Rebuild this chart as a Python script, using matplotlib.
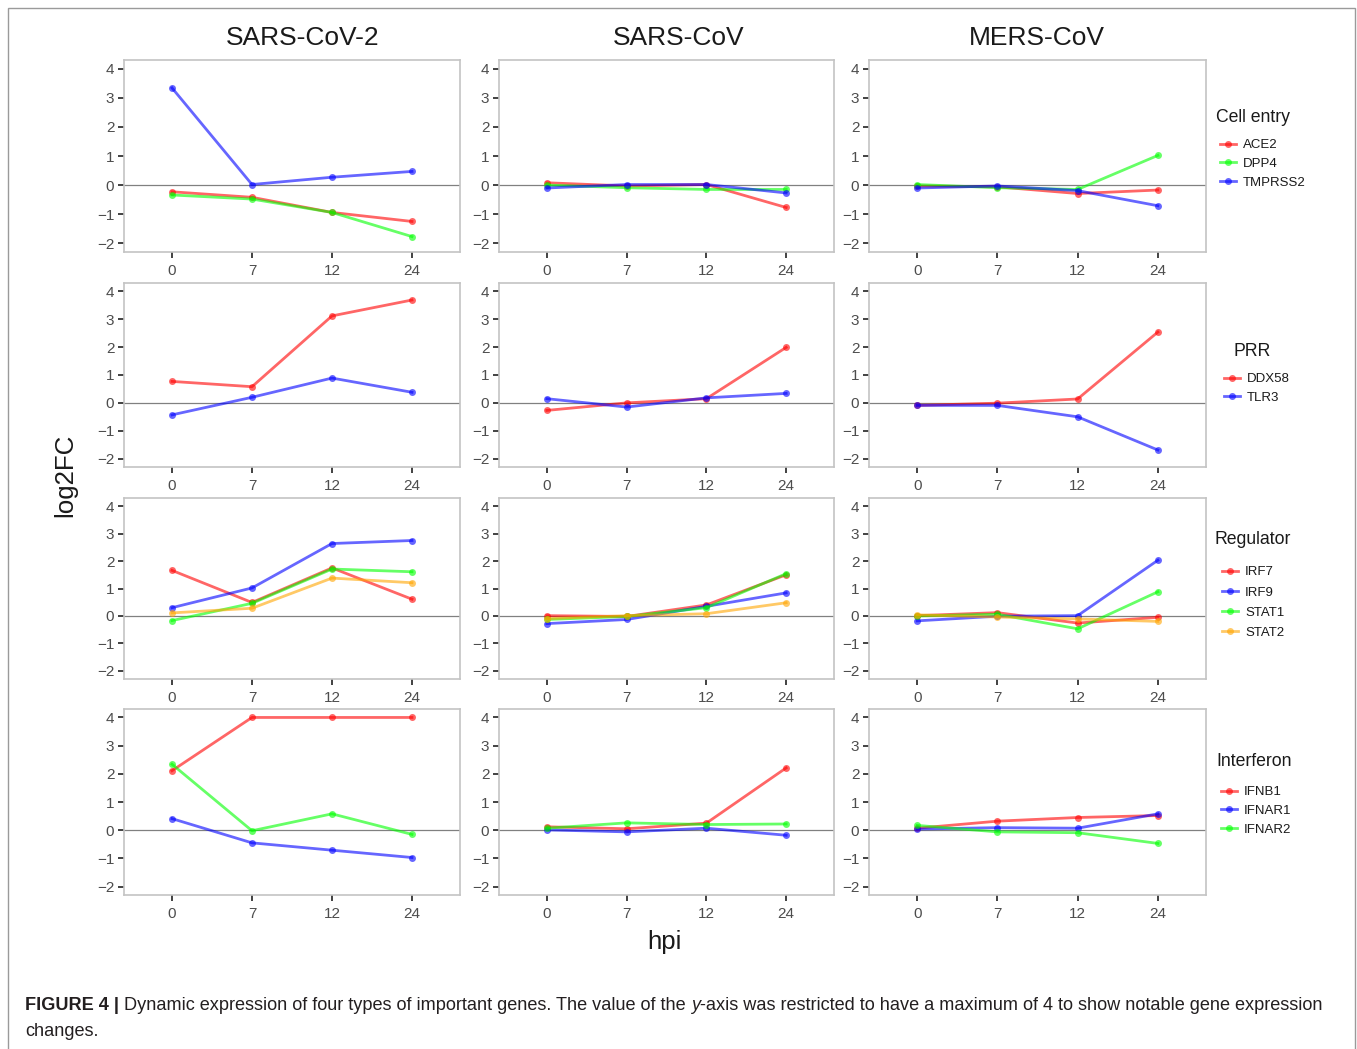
import matplotlib
matplotlib.use("Agg")
import matplotlib.pyplot as plt
from matplotlib.lines import Line2D
from matplotlib.patches import Rectangle

plt.rcParams['font.family'] = ['Liberation Sans', 'DejaVu Sans']

# time points (categorical x axis)
hpi = ["0", "7", "12", "24"]
viruses = ["SARS-CoV-2", "SARS-CoV", "MERS-CoV"]

# log2FC values, one list per virus: [SARS-CoV-2, SARS-CoV, MERS-CoV]
cell_entry = {
    "ACE2":    [[-0.23, -0.42, -0.94, -1.25], [0.08, -0.03, 0.02, -0.77], [-0.03, -0.06, -0.29, -0.17]],
    "DPP4":    [[-0.34, -0.48, -0.94, -1.77], [0.00, -0.09, -0.15, -0.15], [0.02, -0.09, -0.15, 1.02]],
    "TMPRSS2": [[3.34, 0.02, 0.27, 0.47], [-0.10, 0.02, 0.02, -0.27], [-0.10, -0.03, -0.19, -0.71]],
}
prr = {
    "DDX58": [[0.77, 0.58, 3.12, 3.69], [-0.27, 0.00, 0.15, 1.99], [-0.09, -0.01, 0.14, 2.54]],
    "TLR3":  [[-0.43, 0.20, 0.89, 0.38], [0.15, -0.15, 0.18, 0.34], [-0.09, -0.09, -0.50, -1.69]],
}
regulator = {
    "IRF7":  [[1.66, 0.49, 1.75, 0.61], [0.01, -0.02, 0.40, 1.50], [0.01, 0.12, -0.26, -0.05]],
    "IRF9":  [[0.30, 1.02, 2.64, 2.75], [-0.28, -0.13, 0.35, 0.84], [-0.18, -0.01, 0.01, 2.03]],
    "STAT1": [[-0.17, 0.46, 1.71, 1.61], [-0.13, -0.02, 0.30, 1.54], [0.00, 0.06, -0.47, 0.88]],
    "STAT2": [[0.11, 0.28, 1.38, 1.21], [-0.10, 0.01, 0.08, 0.48], [0.04, -0.04, -0.11, -0.20]],
}
interferon = {
    "IFNB1":  [[2.11, 4.00, 4.00, 4.00], [0.12, 0.05, 0.25, 2.21], [0.07, 0.32, 0.45, 0.52]],
    "IFNAR1": [[0.41, -0.45, -0.71, -0.97], [0.01, -0.06, 0.07, -0.18], [0.04, 0.09, 0.07, 0.58]],
    "IFNAR2": [[2.34, -0.02, 0.58, -0.15], [0.07, 0.26, 0.20, 0.22], [0.17, -0.06, -0.09, -0.47]],
}

groups = [("Cell entry", cell_entry), ("PRR", prr), ("Regulator", regulator), ("Interferon", interferon)]

gene_colors = {
    "ACE2": "#FF0000", "DPP4": "#00FF00", "TMPRSS2": "#0000FF",
    "DDX58": "#FF0000", "TLR3": "#0000FF",
    "IRF7": "#FF0000", "IRF9": "#0000FF", "STAT1": "#00FF00", "STAT2": "#FFA500",
    "IFNB1": "#FF0000", "IFNAR1": "#0000FF", "IFNAR2": "#00FF00",
}

W, H = 1357, 1049
fig = plt.figure(figsize=(W / 100, H / 100), dpi=100)


def fx(x):
    return x / W


def fy(y):
    return 1 - y / H


col_x = [(124, 460), (499, 834), (869, 1206)]
row_y = [(60, 252), (283, 467), (498, 679), (709, 895)]

# legend titles: (x, y, ha) and legend entries: (x, top y, row spacing)
leg_title = [(1216, 117, "left"), (1252, 351, "center"), (1215, 539, "left"), (1216, 762, "left")]
leg_entry = [(1220, 139, 0.49), (1224, 373, 0.49), (1222, 566, 0.61), (1221, 786, 0.49)]

xs = list(range(1, len(hpi) + 1))

for r, (gname, gdata) in enumerate(groups):
    y0, y1 = row_y[r]
    for c in range(3):
        x0, x1 = col_x[c]
        ax = fig.add_axes([fx(x0), fy(y1), (x1 - x0) / W, (y1 - y0) / H])
        ax.axhline(0, color="#808080", lw=0.9, zorder=1)
        for gene, vals in gdata.items():
            ax.plot(xs, vals[c], color=gene_colors[gene], alpha=0.6, lw=2,
                    marker="o", ms=5, markeredgewidth=0, zorder=2)
        ax.set_xlim(0.4, 4.6)
        ax.set_ylim(-2.3, 4.3)
        ax.set_xticks(xs)
        ax.set_xticklabels(hpi)
        ax.set_yticks([-2, -1, 0, 1, 2, 3, 4])
        ax.tick_params(axis="both", length=4.5, width=1.3, color="#333333",
                       labelcolor="#4d4d4d", labelsize=11, pad=2.5)
        ax.tick_params(axis="x", pad=4)
        for sp in ax.spines.values():
            sp.set_color("#c4c4c4")
            sp.set_linewidth(1.2)

    # legend for this row, right of the last column
    tx, ty, tha = leg_title[r]
    fig.text(fx(tx), fy(ty), gname, ha=tha, va="center", fontsize=12.7, color="#1a1a1a")
    handles = [Line2D([0], [0], color=gene_colors[g], alpha=0.6, lw=2,
                      marker="o", ms=5, markeredgewidth=0) for g in gdata]
    lx, ly, lsp = leg_entry[r]
    leg = fig.legend(handles, list(gdata.keys()), loc="upper left",
                     bbox_to_anchor=(fx(lx), fy(ly)), frameon=False,
                     fontsize=9.5, handlelength=1.25, handletextpad=0.5,
                     labelspacing=lsp, borderpad=0, borderaxespad=0)
    for t in leg.get_texts():
        t.set_color("#1a1a1a")

# column titles and axis labels
title_x = [303, 679, 1037]
for name, tx in zip(viruses, title_x):
    fig.text(fx(tx), fy(38), name, ha="center", va="center", fontsize=19, color="#1a1a1a")
fig.text(fx(65), fy(475), "log2FC", ha="center", va="center", rotation=90, fontsize=18.6, color="#1a1a1a")
fig.text(fx(664), fy(942), "hpi", ha="center", va="center", fontsize=18.5, color="#1a1a1a")

# outer frame
fig.patches.append(Rectangle((fx(8), fy(1060)), (1355 - 8) / W, (1060 - 8) / H,
                             transform=fig.transFigure, fill=False, edgecolor="#9a9a9a", lw=1))

# caption with mixed styles
cap_size = 13.1
cap_color = "#231f20"
space_px = 0.278 * cap_size * 100 / 72
renderer = fig.canvas.get_renderer()


def put_pieces(x, y, pieces):
    for s, kw, gap in pieces:
        t = fig.text(fx(x), fy(y), s, ha="left", va="center", fontsize=cap_size, color=cap_color, **kw)
        bb = t.get_window_extent(renderer)
        x = x + bb.width + (space_px if gap else 0)


put_pieces(25, 1006, [
    ("FIGURE 4 |", {"fontweight": "bold"}, True),
    ("Dynamic expression of four types of important genes. The value of the", {}, True),
    ("y", {"fontstyle": "italic"}, False),
    ("-axis was restricted to have a maximum of 4 to show notable gene expression", {}, False),
])
put_pieces(25, 1031, [("changes.", {}, False)])

fig.savefig("out.png", dpi=100)
